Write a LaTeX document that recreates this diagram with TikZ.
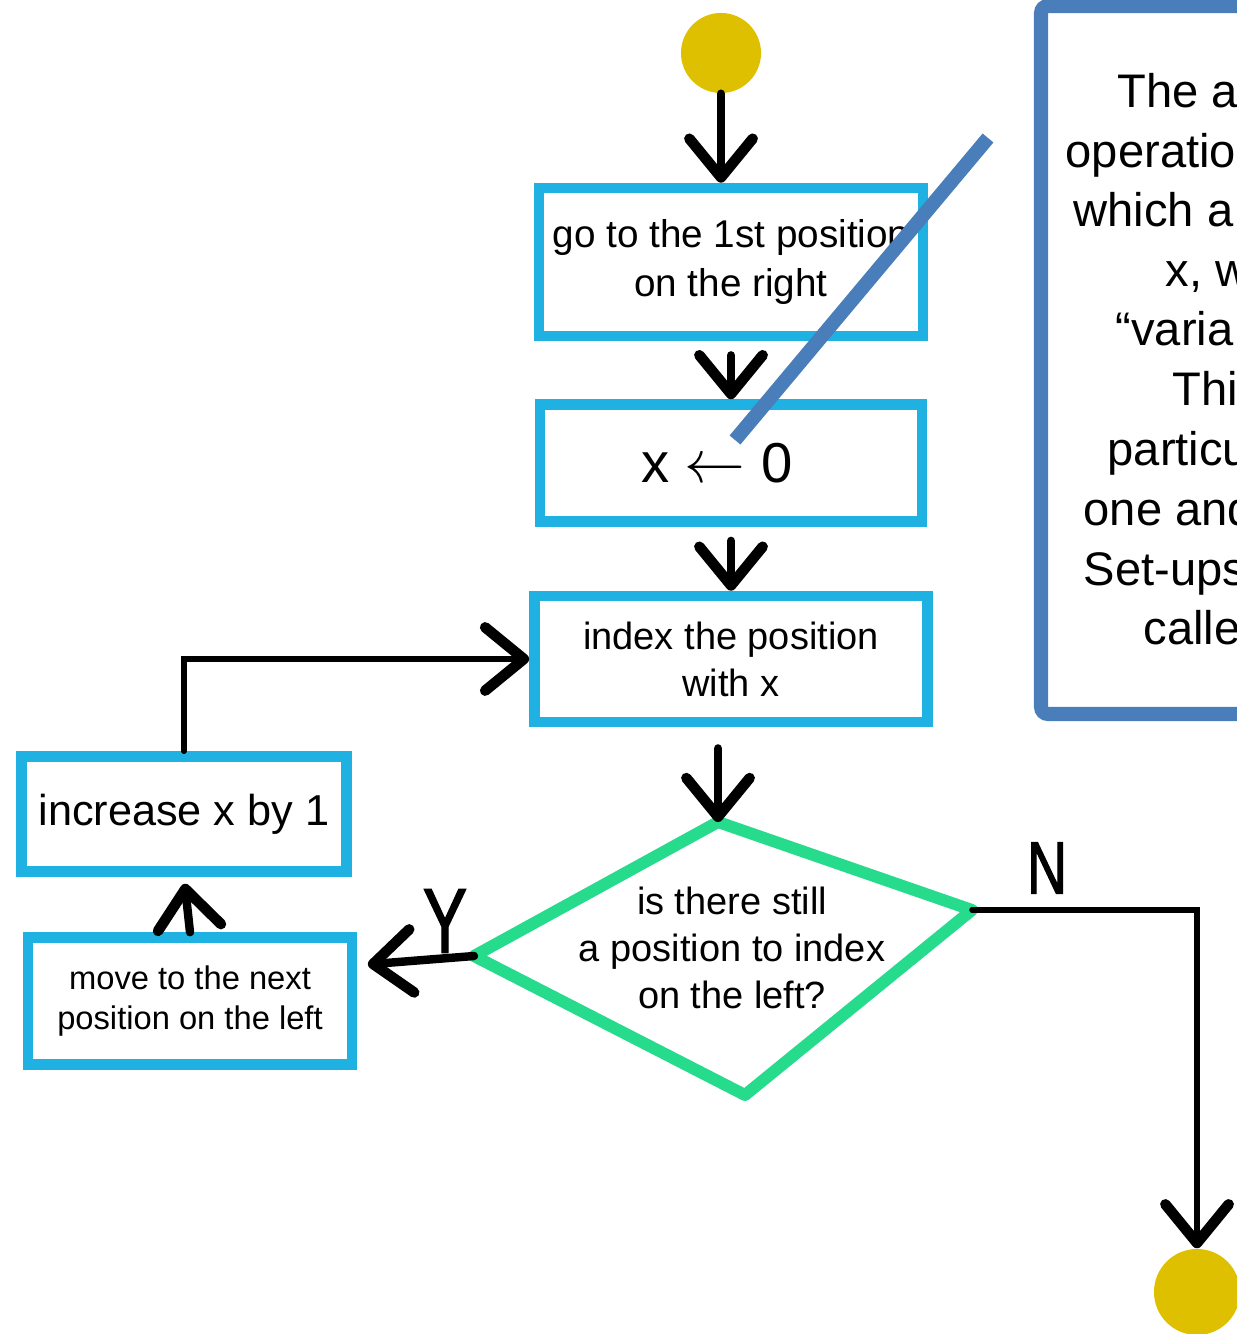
\documentclass[tikz,border=0pt]{standalone}
\usepackage{fontspec}
\setmainfont{Liberation Sans}
\newfontfamily\handfont{Liberation Sans}[FakeBold=2]
\usetikzlibrary{calc,arrows.meta}

\definecolor{boxblue}{RGB}{30,177,226}
\definecolor{askgreen}{RGB}{38,220,140}
\definecolor{dotyellow}{RGB}{222,192,0}
\definecolor{noteblue}{RGB}{74,126,187}

\begin{document}
\begin{tikzpicture}[x=0.01cm,y=-0.01cm,
    flowbox/.style={draw=boxblue, line width=3pt, rectangle, align=center, inner sep=0pt},
    arr/.style={line width=2.4pt, line cap=round,
      -{Straight Barb[length=11pt,width=18pt,line width=3pt,round]}},
    tag/.style={inner sep=0pt, font=\handfont\fontsize{26}{26}\selectfont},
    note/.style={inner sep=0pt, anchor=base west, font=\fontsize{13.4}{16}\selectfont}]

    \useasboundingbox (0,0) rectangle (1237,1334);
    \clip (0,0) rectangle (1237,1334);

    \node[circle, fill=dotyellow, inner sep=0pt, minimum size=0.8cm] (start) at (721,53) {};
    \node[circle, fill=dotyellow, inner sep=0pt, minimum size=0.86cm] (fin) at (1197,1292) {};

    \node[flowbox, minimum width=3.84cm, minimum height=1.48cm,
      font=\fontsize{11}{13.7}\selectfont] (go) at (731,262) {go to the 1st position\\on the right};
    \node[flowbox, minimum width=3.82cm, minimum height=1.17cm,
      font=\fontsize{16}{19}\selectfont] (zero) at (731,463) {x $\leftarrow$ 0\hspace{0.5em}};
    \node[flowbox, minimum width=3.93cm, minimum height=1.26cm,
      font=\fontsize{10.8}{13.3}\selectfont] (idx) at (731,659) {index the position\\with x};
    \node[flowbox, minimum width=3.25cm, minimum height=1.15cm,
      font=\fontsize{12.3}{14}\selectfont] (inc) at (184,814) {increase x by 1};
    \node[flowbox, minimum width=3.24cm, minimum height=1.27cm,
      font=\fontsize{9.3}{11.4}\selectfont] (mov) at (190,1001) {move to the next\\position on the left};

    \coordinate (dt) at (718,822);
    \coordinate (dr) at (972,910);
    \coordinate (db) at (745,1095);
    \coordinate (dl) at (474,956);
    \draw[askgreen, line width=3.4pt, line join=round] (dt) -- (dr) -- (db) -- (dl) -- cycle;
    \node[align=center, inner sep=0pt, font=\fontsize{10.8}{13.3}\selectfont] (ask) at (732,948)
      {is there still\\a position to index\\on the left?};

    \draw[arr] (start.south) -- (start.south |- go.north);
    \draw[arr, shorten <=4pt] (go.south) -- (zero.north);
    \draw[arr, shorten <=4pt] (zero.south) -- (idx.north);
    \draw[arr, shorten <=6pt] (dt |- idx.south) -- (dt);
    \draw[arr, shorten >=3pt] (dl) -- ($(mov.north east)!0.24!(mov.south east)$);
    \draw[arr, shorten >=2pt] (mov.north) -- (inc.south);
    \draw[arr, line width=1.6pt] (inc.north) |- (idx.west);
    \draw[arr, line width=1.6pt] (dr) -| (fin.north);

    \node[tag] (yes) at (445,921) {\scalebox{0.72}[1]{Y}};
    \node[tag, font=\handfont\fontsize{21}{21}\selectfont] (no) at (1047,868) {\scalebox{0.75}[1]{N}};

    \draw[noteblue, line width=4pt, rounded corners=2pt] (1041,6) rectangle (1320,714);
    \coordinate (foot) at (735,440);
    \coordinate (knee) at (988,138);
    \draw[noteblue, line width=4pt] (knee) -- (foot);

    \foreach \x/\y/\t [count=\i] in {1117/108/The a, 1065/168/operatio, 1073/227/which a,
        1165/287/{x, w}, 1115/346/“varia, 1172/406/This, 1107/466/particu,
        1083/525/one and, 1083/585/Set-ups, 1143/644/calle}
      \node[note] (line\i) at (\x,\y) {\t};
\end{tikzpicture}
\end{document}
